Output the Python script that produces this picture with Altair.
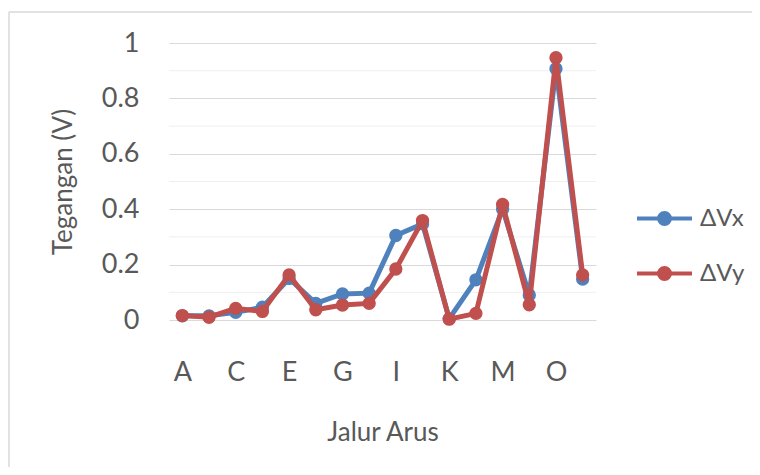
import altair as alt
import pandas as pd

categories = list("ABCDEFGHIJKLMNOP")
dvx = [0.015, 0.015, 0.028, 0.046, 0.150, 0.060, 0.094, 0.097,
       0.305, 0.347, 0.005, 0.145, 0.401, 0.090, 0.907, 0.148]
dvy = [0.016, 0.010, 0.042, 0.031, 0.163, 0.037, 0.054, 0.060,
       0.184, 0.359, 0.003, 0.024, 0.417, 0.055, 0.947, 0.163]
series_names = ["ΔVx", "ΔVy"]
series_colors = ["#4F81BD", "#C0504D"]
major_ticks = [0, 0.2, 0.4, 0.6, 0.8, 1]
minor_ticks = [0.1, 0.3, 0.5, 0.7, 0.9]
x_label_values = ["A", "C", "E", "G", "I", "K", "M", "O"]

rows = []
for name, vals in zip(series_names, [dvx, dvy]):
    for c, v in zip(categories, vals):
        rows.append({"Jalur": c, "V": v, "Seri": name})
df = pd.DataFrame(rows)

FONT = "Lato"
TXT = "#595959"
W, H = 427, 277

legend = alt.Legend(
    title=None, orient="none", legendX=466, legendY=146,
    symbolType="M-1,0H1M0.2,0A0.2,0.2,0,1,1,-0.2,0A0.2,0.2,0,1,1,0.2,0Z",
    symbolSize=3025, symbolStrokeWidth=4,
    labelFontSize=24, labelFont=FONT, labelColor=TXT, labelOffset=6,
    rowPadding=12, padding=0,
)
sc = alt.Scale(domain=series_names, range=series_colors)

x_enc = alt.X(
    "Jalur:N", sort=categories,
    scale=alt.Scale(domain=categories),
    axis=alt.Axis(
        values=x_label_values, title="Jalur Arus", labelAngle=0,
        domain=False, ticks=False, tickSize=0, grid=False,
        labelFontSize=27, labelFont=FONT, labelColor=TXT,
        labelBaseline="middle", labelPadding=52,
        titleFontSize=26, titleFont=FONT, titleColor=TXT, titleFontWeight="normal",
        titleX=W / 2, titleY=112, titleBaseline="middle", titleAlign="center",
    ),
)
y_enc = alt.Y(
    "V:Q",
    scale=alt.Scale(domain=[0, 1], nice=False),
    axis=alt.Axis(
        values=major_ticks, format="~g", title="Tegangan (V)",
        domain=False, ticks=False, tickSize=0,
        gridColor="#d9d9d9", gridWidth=1,
        labelFontSize=27, labelFont=FONT, labelColor=TXT, labelPadding=30,
        titleFontSize=26, titleFont=FONT, titleColor=TXT, titleFontWeight="normal",
        titleAngle=270, titleX=-106, titleY=H / 2, titleBaseline="middle", titleAlign="center",
    ),
)

one = pd.DataFrame({"f": [0]})
frame_top = alt.Chart(one).mark_rule(stroke="#d9d9d9", strokeWidth=1.5).encode(
    x=alt.value(-160), x2=alt.value(W + 400), y=alt.value(-31)
)
frame_left = alt.Chart(one).mark_rule(stroke="#d9d9d9", strokeWidth=1.5).encode(
    x=alt.value(-160), y=alt.value(-31), y2=alt.value(H + 400)
)

minor = alt.Chart(pd.DataFrame({"t": minor_ticks})).mark_rule(
    color="#efefef", strokeWidth=1
).encode(y=alt.Y("t:Q", scale=alt.Scale(domain=[0, 1], nice=False)))


def line_layer(name):
    return alt.Chart(df[df.Seri == name]).mark_line(strokeWidth=5).encode(
        x=x_enc, y=y_enc, stroke=alt.Stroke("Seri:N", scale=sc, legend=legend)
    )


def pt_layer(name):
    return alt.Chart(df[df.Seri == name]).mark_point(
        filled=True, size=140, strokeWidth=1.5, opacity=1
    ).encode(
        x=x_enc, y=y_enc,
        fill=alt.Fill("Seri:N", scale=sc, legend=legend),
        stroke=alt.Stroke("Seri:N", scale=sc, legend=legend),
    )


chart = alt.layer(
    frame_top, frame_left, minor,
    line_layer("ΔVx"), pt_layer("ΔVx"),
    line_layer("ΔVy"), pt_layer("ΔVy"),
).properties(
    width=W, height=H,
    autosize=alt.AutoSizeParams(type="none"),
    padding={"left": 161, "top": 35, "right": 156, "bottom": 147},
).configure(background="transparent").configure_view(stroke=None, strokeWidth=0)

chart.save("out.html", embed_options={"renderer": "svg", "actions": False})
